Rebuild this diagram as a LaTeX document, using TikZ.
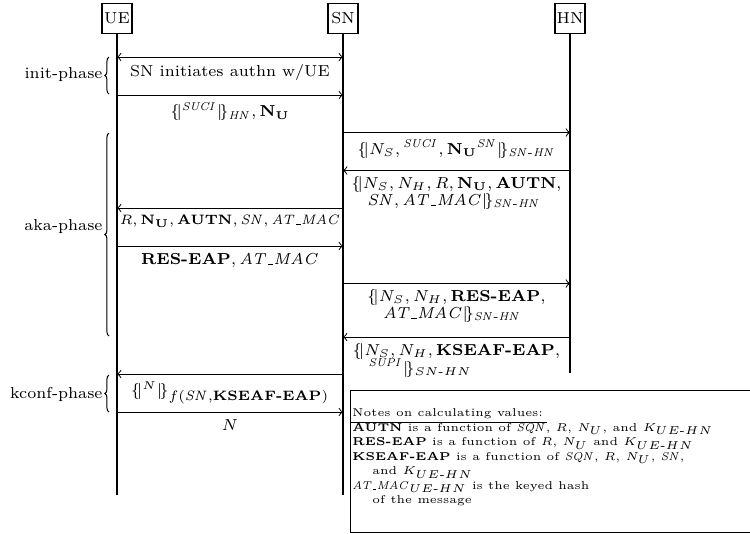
\documentclass[tikz,border=0pt]{standalone}
\usepackage{amsmath}
\usetikzlibrary{decorations.pathreplacing}
\newcommand\encL{\{\!|}
\newcommand\encR{|\!\}}
\newcommand\bNU{\mathbf{N}_{\mathbf{U}}}
\newcommand\usc{\kern0.04em\rule{0.32em}{0.045em}\kern0.04em}
\newcommand\atmac{\mathit{AT\usc MAC}}
\newcommand\snhn{\mathit{SN\text{-}HN}}
\newcommand\uehn{UE\text{-}HN}
\begin{document}
\begin{tikzpicture}[x=0.44pt,y=-0.44pt,
  actor/.style={draw, line width=0.45pt, minimum width=13.2pt, minimum height=13.2pt, inner sep=0.5pt, font=\scriptsize},
  life/.style={line width=0.45pt},
  msg/.style={line width=0.45pt},
  lbl/.style={font=\scriptsize, inner sep=3pt},
  phase/.style={decorate, decoration={brace, amplitude=1.8pt}, line width=0.45pt},
  phaselbl/.style={anchor=east, inner sep=0pt, font=\scriptsize},
  noteline/.style={font=\tiny, inner sep=0pt, anchor=base west}]
\useasboundingbox (0,0) rectangle (750,533);
\clip (0,0) rectangle (750,533);
% actors
\node[actor] (UE) at (117,18) {UE};
\node[actor] (SN) at (343,18) {SN};
\node[actor] (HN) at (570,18) {HN};
\coordinate (UEend) at (117,495);
\coordinate (SNend) at (343,495);
\coordinate (HNend) at (570,373);
\draw[life] (UE) -- (UEend);
\draw[life] (SN) -- (SNend);
\draw[life] (HN) -- (HNend);
% message end points
\coordinate (m1u) at (117,57);   \coordinate (m1s) at (343,57);
\coordinate (m2u) at (117,95);   \coordinate (m2s) at (343,95);
\coordinate (m3s) at (343,132.5); \coordinate (m3h) at (570,132.5);
\coordinate (m4s) at (343,170.5); \coordinate (m4h) at (570,170.5);
\coordinate (m5u) at (117,208);  \coordinate (m5s) at (343,208);
\coordinate (m6u) at (117,246);  \coordinate (m6s) at (343,246);
\coordinate (m7s) at (343,283.5); \coordinate (m7h) at (570,283.5);
\coordinate (m8s) at (343,337);  \coordinate (m8h) at (570,337);
\coordinate (m9u) at (117,374);  \coordinate (m9s) at (343,374);
\coordinate (m10u) at (117,412); \coordinate (m10s) at (343,412);
% messages
\draw[msg,<->] (m1u) -- node[lbl,below] (l1) {SN initiates authn w/UE} (m1s);
\draw[msg,->] (m2u) -- node[lbl,below] (l2) {$\encL{}^{\mathit{SUCI}}\encR_{\mathit{HN}}, \bNU$} (m2s);
\draw[msg,->] (m3s) -- node[lbl,below] (l3) {$\encL N_S, {}^{\mathit{SUCI}}, {\bNU}^{\mathit{SN}}\encR_{\snhn}$} (m3h);
\draw[msg,->] (m4h) -- node[lbl,below,align=left,inner sep=2.5pt] (l4) {$\encL N_S, N_H, R, \bNU, \mathbf{AUTN},$\\[-0.7pt]\quad$\mathit{SN}, \atmac\encR_{\snhn}$} (m4s);
\draw[msg,->] (m5s) -- node[lbl,below,font=\fontsize{6.5}{8}\selectfont] (l5) {$R, \bNU, \mathbf{AUTN}, \mathit{SN}, \atmac$} (m5u);
\draw[msg,->] (m6u) -- node[lbl,below] (l6) {$\text{\textbf{RES-EAP}}, \atmac$} (m6s);
\draw[msg,->] (m7s) -- node[lbl,below,align=left,inner sep=2.5pt] (l7) {$\encL N_S, N_H, \text{\textbf{RES-EAP}},$\\[-0.7pt]\quad$\atmac\encR_{\snhn}$} (m7h);
\draw[msg,->] (m8h) -- node[lbl,below,align=left,inner sep=2.5pt] (l8) {$\encL N_S, N_H, \text{\textbf{KSEAF-EAP}},$\\[-1.2pt]\quad${}^{\mathit{SUPI}}\encR_{SN\text{-}HN}$} (m8s);
\draw[msg,->] (m9s) -- node[lbl,below] (l9) {$\encL{}^{N}\encR_{\text{\fontsize{6}{7}\selectfont$f(\mathit{SN},$\textbf{KSEAF-EAP}$)$}}$} (m9u);
\draw[msg,->] (m10u) -- node[lbl,below] (l10) {$N$} (m10s);
% phases
\coordinate (p1b) at (109,94);  \coordinate (p1t) at (109,57);
\coordinate (p2b) at (109,336); \coordinate (p2t) at (109,133);
\coordinate (p3b) at (109,412); \coordinate (p3t) at (109,375);
\draw[phase] (p1b) -- (p1t);
\draw[phase] (p2b) -- (p2t);
\draw[phase] (p3b) -- (p3t);
\node[phaselbl] (ph1) at (103,75) {init-phase};
\node[phaselbl] (ph2) at (103,227) {aka-phase};
\node[phaselbl] (ph3) at (103,394) {kconf-phase};
% notes
\node[draw, line width=0.45pt, anchor=north west, minimum width=200pt, minimum height=62.5pt, inner sep=0pt] (notes) at (350,390) {};
\node[noteline] (n0) at (352,416.5) {Notes on calculating values:};
\draw[line width=0.45pt] (350,422) -- (547,422);
\node[noteline] (n1) at (352,431) {\textbf{AUTN} is a function of $\mathit{SQN}$, $R$, $N_U$, and $K_{\uehn}$};
\node[noteline] (n2) at (352,445.5) {\textbf{RES-EAP} is a function of $R$, $N_U$ and $K_{\uehn}$};
\node[noteline] (n3) at (352,460) {\textbf{KSEAF-EAP} is a function of $\mathit{SQN}$, $R$, $N_U$, $\mathit{SN}$,};
\node[noteline] (n4) at (372,474.5) {and $K_{\uehn}$};
\node[noteline] (n5) at (352,489) {$\atmac_{\uehn}$ is the keyed hash};
\node[noteline] (n6) at (372,503) {of the message};
\end{tikzpicture}
\end{document}
